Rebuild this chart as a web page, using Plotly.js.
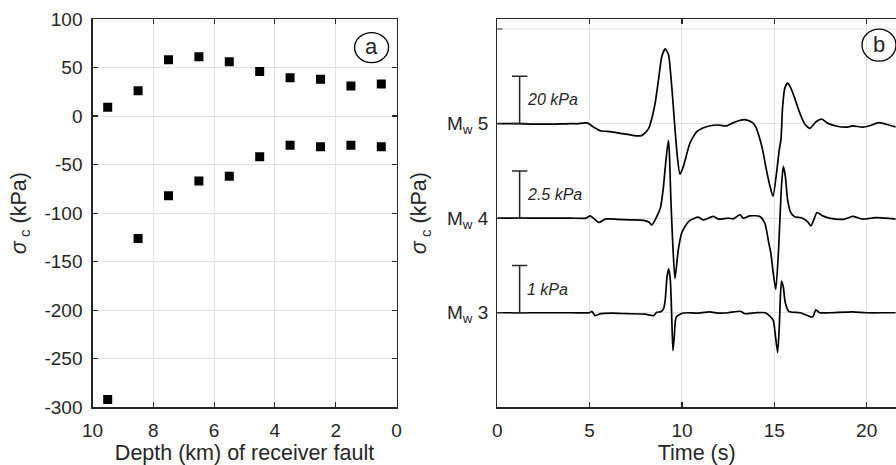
<!DOCTYPE html>
<html>
<head>
<meta charset="utf-8">
<script src="https://cdn.plot.ly/plotly-3.0.1.min.js"></script>
<style>
  html, body { margin: 0; padding: 0; background: #fff; }
  #chart { width: 896px; height: 465px; }
</style>
</head>
<body>
<div id="chart"></div>
<script>
// ---------- Panel (a): stress change vs depth of receiver fault ----------
const depthKm = [9.5, 8.5, 7.5, 6.5, 5.5, 4.5, 3.5, 2.5, 1.5, 0.5];
const sigmaUpperKPa = [9, 26, 58, 61, 56, 46, 39.5, 38, 31, 33];
const sigmaLowerKPa = [-292, -126, -82, -67, -62, -42, -30, -31.5, -30, -31.5];
const depthTicks = [10, 8, 6, 4, 2, 0];
const sigmaTicks = [-300, -250, -200, -150, -100, -50, 0, 50, 100];

// ---------- Panel (b): waveforms (kPa) ----------
const timeMw5 = [0, 1, 2, 3, 4, 4.31, 4.86, 5.22, 5.58, 6.12, 6.66, 7.2, 7.74, 7.92, 8.2, 8.37, 8.55, 8.73, 8.91, 9.09, 9.27, 9.4, 9.52, 9.6, 9.75, 9.89, 10.07, 10.43, 10.8, 11.1, 11.47, 11.93, 12.38, 12.74, 13.1, 13.46, 13.82, 14.0, 14.18, 14.37, 14.54, 14.75, 14.93, 15.14, 15.27, 15.36, 15.45, 15.57, 15.72, 15.9, 16.07, 16.35, 16.62, 16.92, 17.26, 17.57, 17.88, 18.34, 18.88, 19.24, 19.8, 20.2, 20.67, 21.2, 21.57];
const stressMw5 = [0, 0, -0.2, -0.2, 0, -0.1, 0.3, -1.5, -3.0, -3.4, -4.1, -4.8, -5.2, -4.5, -2.0, 2.3, 8.7, 18.6, 28.4, 31.6, 29.2, 20, 8.5, 0, -14, -21.4, -18.3, -8.3, -3.4, -2.0, -1.0, -0.6, -1.0, 0.2, 1.3, 1.6, 0.4, -1.5, -5.5, -11.2, -18.3, -26, -30.7, -19.7, -11, -6.9, 7.2, 15, 17.1, 15, 11.5, 5.1, 0.2, -2.0, 0.8, 1.9, 0.2, -1.0, -1.5, -1.0, -1.5, -0.8, 0.4, -0.6, -1.4];

const timeMw4 = [0, 1, 2, 3, 4, 4.8, 5.03, 5.25, 5.49, 5.85, 6.5, 7.2, 7.92, 8.2, 8.37, 8.64, 8.83, 9.0, 9.1, 9.26, 9.31, 9.4, 9.5, 9.62, 9.8, 9.98, 10.16, 10.43, 10.88, 11.15, 11.7, 11.97, 12.51, 12.78, 13.14, 13.32, 13.68, 14.22, 14.49, 14.67, 14.82, 14.94, 15.08, 15.23, 15.31, 15.4, 15.49, 15.6, 15.72, 15.87, 16.08, 16.52, 16.8, 16.98, 17.17, 17.31, 17.62, 17.98, 18.34, 18.8, 19.24, 19.78, 20.5, 21.0, 21.57];
const stressMw4 = [0, 0, 0, 0, 0, 0, 0.12, -0.04, -0.23, -0.05, -0.06, -0.09, -0.12, -0.2, -0.36, 0.09, 0.53, 1.68, 2.74, 4.1, 3.6, 0.97, -1.33, -3.19, -1.68, -0.8, -0.45, -0.12, 0.05, -0.09, 0.09, -0.05, 0, -0.04, 0.18, 0, 0.12, 0.09, -0.27, -1.15, -1.9, -2.9, -3.77, -1.68, 0.09, 1.86, 2.74, 2.2, 0.97, 0.35, 0.09, 0, -0.18, -0.41, 0, 0.3, 0.12, 0, -0.05, -0.05, 0.09, -0.05, 0.03, 0, -0.05];

const timeMw3 = [0, 1, 2, 3, 4, 5.0, 5.12, 5.3, 5.6, 6.2, 7.0, 8.0, 8.46, 8.64, 8.85, 9.0, 9.09, 9.19, 9.28, 9.37, 9.44, 9.51, 9.58, 9.69, 9.95, 10.3, 10.8, 11.5, 12.0, 12.5, 13.18, 13.4, 14.0, 14.5, 14.73, 14.94, 15.05, 15.18, 15.27, 15.32, 15.39, 15.49, 15.59, 15.78, 16.4, 17.07, 17.25, 17.45, 18.0, 19.23, 20.0, 21.0, 21.57];
const stressMw3 = [0, 0, 0, 0, 0, 0, 0.03, -0.06, -0.02, -0.01, -0.02, -0.03, -0.06, 0.01, 0.02, 0.08, 0.26, 0.76, 0.93, 0.69, -0.02, -0.8, -0.52, -0.09, -0.02, 0, -0.01, 0.02, -0.01, 0, 0.03, -0.02, 0, 0, -0.06, -0.16, -0.45, -0.84, -0.3, 0.26, 0.67, 0.54, 0.22, 0.03, 0, -0.09, 0.06, 0, 0, 0.02, 0, 0, 0];
const timeTicks = [0, 5, 10, 15, 20];

// trace offsets (y units), kPa per y unit, scale bars (kPa)
const magnitudes = [5, 4, 3];
const magnitudeLabels = ['M<sub>w</sub> 5', 'M<sub>w</sub> 4', 'M<sub>w</sub> 3'];
const kPaPerUnit = [40, 5, 2];
const scaleBarKPa = [20, 2.5, 1];
const scaleBarLabels = ['20 kPa', '2.5 kPa', '1 kPa'];
const scaleBarTime = 1.21;

const INK = '#262626';
const GRID = '#e4e4e4';
const FONT = 'Liberation Sans, Arial, Helvetica, sans-serif';
const TICKF = 19, TITLEF = 21.5;

const series = [[timeMw5, stressMw5], [timeMw4, stressMw4], [timeMw3, stressMw3]];

const traces = [
  { x: depthKm, y: sigmaUpperKPa, type: 'scatter', mode: 'markers', xaxis: 'x', yaxis: 'y',
    marker: { symbol: 'square', size: 9, color: '#000' }, showlegend: false },
  { x: depthKm, y: sigmaLowerKPa, type: 'scatter', mode: 'markers', xaxis: 'x', yaxis: 'y',
    marker: { symbol: 'square', size: 9, color: '#000' }, showlegend: false }
];

series.forEach((s, i) => {
  traces.push({
    x: s[0], y: s[1].map(v => magnitudes[i] + v / kPaPerUnit[i]),
    type: 'scatter', mode: 'lines', xaxis: 'x2', yaxis: 'y2',
    line: { color: '#000', width: 1.7, shape: 'spline', smoothing: 0.6 }, showlegend: false
  });
  traces.push({
    x: [scaleBarTime, scaleBarTime],
    y: [magnitudes[i], magnitudes[i] + scaleBarKPa[i] / kPaPerUnit[i]],
    type: 'scatter', mode: 'lines+markers', xaxis: 'x2', yaxis: 'y2',
    line: { color: INK, width: 1.5 },
    marker: { symbol: 'line-ew', size: 11, line: { color: INK, width: 1.5 } },
    showlegend: false
  });
});

const annotations = magnitudes.map((m, i) => ({
  x: scaleBarTime + 0.3, y: m + 0.5 * scaleBarKPa[i] / kPaPerUnit[i],
  xref: 'x2', yref: 'y2', xanchor: 'left', yanchor: 'middle', showarrow: false,
  text: '<i>' + scaleBarLabels[i] + '</i>', font: { family: FONT, size: 16, color: INK }
}));
annotations.push(
  { x: 0.82, y: 70.6, xref: 'x', yref: 'y', showarrow: false, text: 'a',
    font: { family: FONT, size: 22, color: INK }, yshift: 1 },
  { x: 20.67, y: 5.83, xref: 'x2', yref: 'y2', showarrow: false, text: 'b',
    font: { family: FONT, size: 22, color: INK }, yshift: 1 }
);

const shapes = [
  { type: 'circle', xref: 'x', yref: 'y', xsizemode: 'pixel', ysizemode: 'pixel',
    xanchor: 0.82, yanchor: 70.6, x0: -17, x1: 17, y0: -15, y1: 15,
    line: { color: '#000', width: 1.3 } },
  { type: 'circle', xref: 'x2', yref: 'y2', xsizemode: 'pixel', ysizemode: 'pixel',
    xanchor: 20.67, yanchor: 5.83, x0: -17, x1: 17, y0: -16, y1: 16,
    line: { color: '#000', width: 1.3 } },
  // unlabelled top tick + grid line of panel (b)
  { type: 'line', xref: 'x2 domain', yref: 'y2', x0: 0, x1: 1, y0: 6, y1: 6,
    line: { color: GRID, width: 1 }, layer: 'below' },
  { type: 'line', xref: 'x2 domain', yref: 'y2', x0: 0, x1: 5 / 398.7, y0: 6, y1: 6,
    line: { color: INK, width: 1.2 } }
];

const axisCommon = {
  showline: true, linecolor: INK, linewidth: 1.2, ticks: 'inside', ticklen: 5,
  tickcolor: INK, tickwidth: 1.2, showgrid: true, gridcolor: GRID, gridwidth: 1,
  zeroline: false, tickfont: { family: FONT, size: TICKF, color: INK }
};

const layout = {
  width: 896, height: 465,
  margin: { l: 0, r: 0, t: 0, b: 0 },
  paper_bgcolor: '#fff', plot_bgcolor: '#fff',
  font: { family: FONT, color: INK },
  showlegend: false,
  xaxis: Object.assign({}, axisCommon, {
    domain: [92.5 / 896, 396.5 / 896], range: [10, 0], tickmode: 'array',
    tickvals: depthTicks, ticktext: depthTicks.map(String), mirror: 'ticks', anchor: 'y',
    ticklabelstandoff: 6,
    title: { text: 'Depth (km) of receiver fault', font: { family: FONT, size: TITLEF, color: INK }, standoff: 3 }
  }),
  yaxis: Object.assign({}, axisCommon, {
    domain: [57.7 / 465, 446 / 465], range: [-300, 100], tickmode: 'array',
    tickvals: sigmaTicks, ticktext: sigmaTicks.map(String),
    mirror: 'ticks', anchor: 'x', ticklabelstandoff: 5,
    title: { text: '<i>σ</i><sub> c</sub> (kPa)', font: { family: FONT, size: TITLEF, color: INK }, standoff: 12 }
  }),
  xaxis2: Object.assign({}, axisCommon, {
    domain: [497.3 / 896, 1], range: [0, 21.59], tickmode: 'array',
    tickvals: timeTicks, ticktext: timeTicks.map(String), mirror: 'ticks', anchor: 'y2',
    ticklabelstandoff: 6,
    title: { text: 'Time (s)', font: { family: FONT, size: TITLEF, color: INK }, standoff: 3 }
  }),
  yaxis2: Object.assign({}, axisCommon, {
    domain: [57.7 / 465, 446 / 465], range: [2, 6.106], tickmode: 'array',
    tickvals: magnitudes, ticktext: magnitudeLabels,
    mirror: false, anchor: 'x2', ticklabelstandoff: 4,
    title: { text: '<i>σ</i><sub> c</sub> (kPa)', font: { family: FONT, size: TITLEF, color: INK }, standoff: 14 }
  }),
  annotations: annotations,
  shapes: shapes
};

Plotly.newPlot('chart', traces, layout, { staticPlot: true, displayModeBar: false });
</script>
</body>
</html>
